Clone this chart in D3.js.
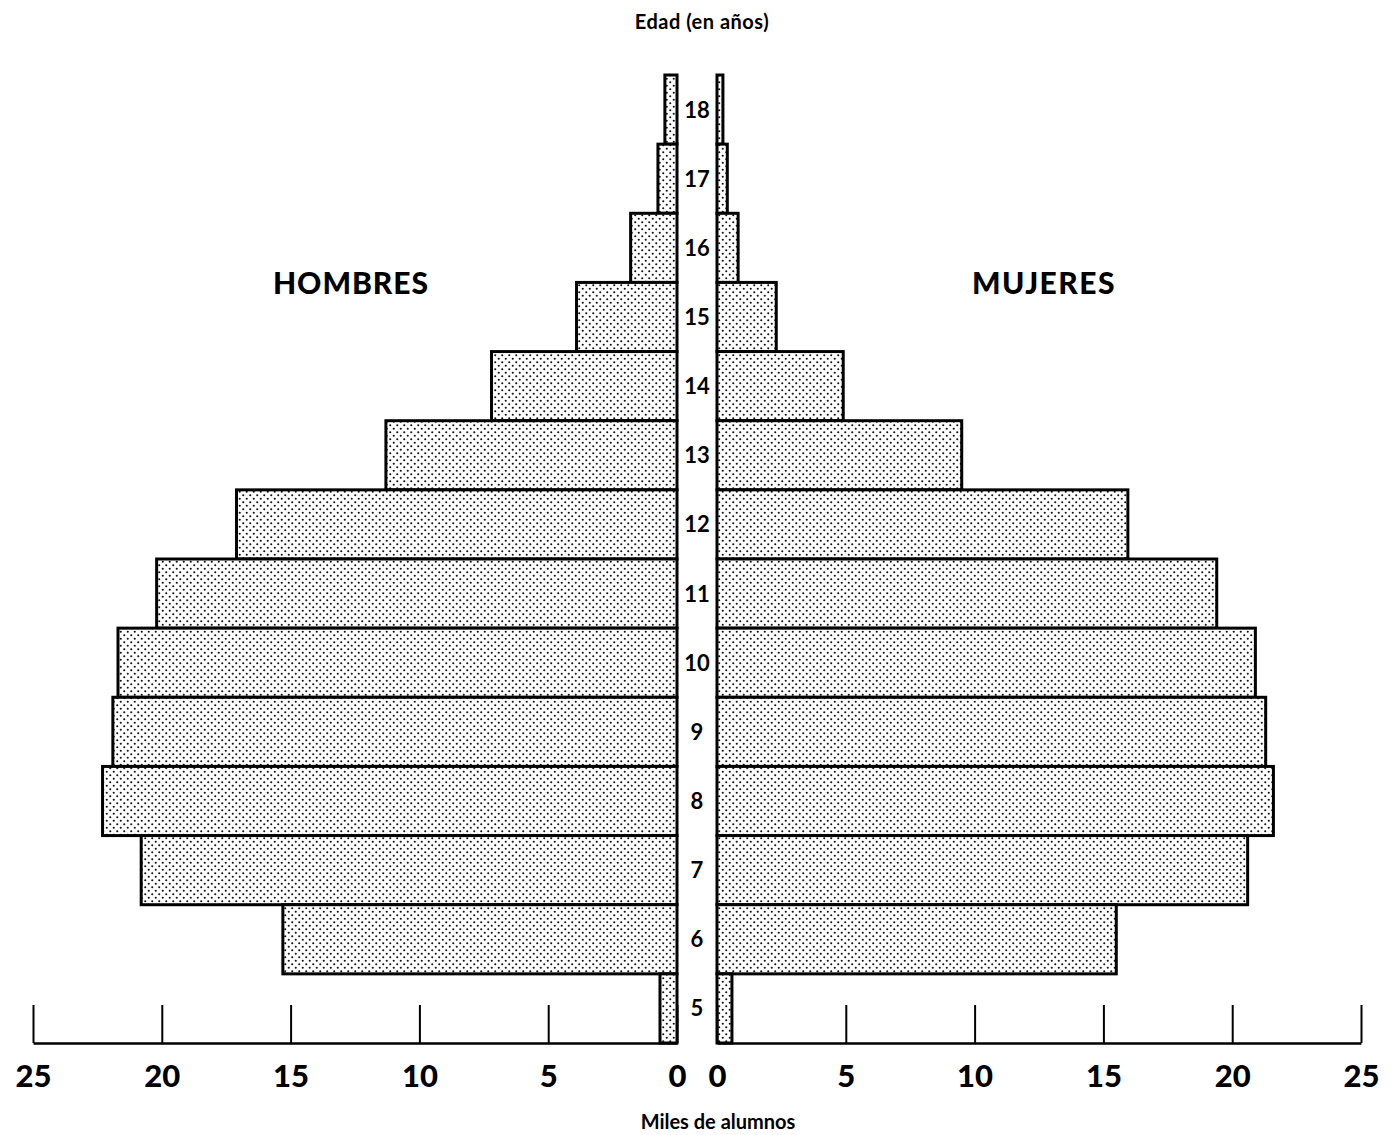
<!DOCTYPE html>
<html><head><meta charset="utf-8">
<script src="https://cdn.jsdelivr.net/npm/d3@7"></script>
<style>
body{margin:0;background:#fff;}
text{font-family:Lato,"DejaVu Sans",sans-serif;fill:#000;}
</style></head>
<body>
<svg id="c" width="1391" height="1135"></svg>
<script>
const ages = [18,17,16,15,14,13,12,11,10,9,8,7,6,5];
const hombres = [0.47,0.74,1.8,3.9,7.2,11.3,17.1,20.2,21.7,21.9,22.3,20.8,15.3,0.66];
const mujeres = [0.23,0.4,0.82,2.3,4.9,9.5,15.95,19.4,20.9,21.3,21.6,20.6,15.5,0.58];
const ticks = [0,5,10,15,20,25];

(function(){
const svg = d3.select("#c");
const defs = svg.append("defs");
const pat = defs.append("pattern").attr("id","dots").attr("patternUnits","userSpaceOnUse")
  .attr("width",7).attr("height",7);
pat.append("rect").attr("width",7).attr("height",7).attr("fill","#fff");
pat.append("circle").attr("cx",1.75).attr("cy",1.75).attr("r",1.05).attr("fill","#111");
pat.append("circle").attr("cx",5.25).attr("cy",5.25).attr("r",1.05).attr("fill","#111");

const yTop = 75, yBottom = 1043;
const xL = d3.scaleLinear().domain([0,25]).range([677,33]);
const xR = d3.scaleLinear().domain([0,25]).range([717,1361]);
const y = d3.scaleBand().domain(ages).range([yTop,yBottom]).padding(0);

// bars
svg.append("g").selectAll("rect").data(ages).join("rect")
  .attr("x",(d,i)=>xL(hombres[i])).attr("y",d=>y(d))
  .attr("width",(d,i)=>xL(0)-xL(hombres[i])).attr("height",y.bandwidth())
  .attr("fill","url(#dots)").attr("stroke","#000").attr("stroke-width",3);
svg.append("g").selectAll("rect").data(ages).join("rect")
  .attr("x",xR(0)).attr("y",d=>y(d))
  .attr("width",(d,i)=>xR(mujeres[i])-xR(0)).attr("height",y.bandwidth())
  .attr("fill","url(#dots)").attr("stroke","#000").attr("stroke-width",3);

// age labels
svg.append("g").selectAll("text").data(ages).join("text")
  .attr("x",697).attr("y",d=>y(d)+y.bandwidth()/2+8)
  .attr("text-anchor","middle").attr("font-size",22).attr("font-weight",700)
  .text(d=>d);

// axes
function styleAxis(g){
  g.select(".domain").attr("stroke","#000").attr("stroke-width",2.5);
  g.selectAll(".tick line").attr("stroke","#000").attr("stroke-width",2);
  g.selectAll(".tick text").attr("font-size",31).attr("font-weight",900)
    .attr("font-family","Lato, 'DejaVu Sans', sans-serif").attr("fill","#000");
}
const axL = d3.axisBottom(xL).tickValues(ticks).tickSizeInner(-38).tickSizeOuter(0).tickPadding(22);
const axR = d3.axisBottom(xR).tickValues(ticks).tickSizeInner(-38).tickSizeOuter(0).tickPadding(22);
svg.append("g").attr("transform",`translate(0,${yBottom})`).call(axL).call(styleAxis);
svg.append("g").attr("transform",`translate(0,${yBottom})`).call(axR).call(styleAxis);

// titles
svg.append("text").attr("x",702).attr("y",29).attr("text-anchor","middle")
  .attr("font-size",20).attr("font-weight",700).attr("letter-spacing",0.5).text("Edad (en años)");
svg.append("text").attr("x",351).attr("y",294).attr("text-anchor","middle")
  .attr("font-size",30).attr("font-weight",900).attr("letter-spacing",1).text("HOMBRES");
svg.append("text").attr("x",1044).attr("y",294).attr("text-anchor","middle")
  .attr("font-size",30).attr("font-weight",900).attr("letter-spacing",1.5).text("MUJERES");
svg.append("text").attr("x",718).attr("y",1129).attr("text-anchor","middle")
  .attr("font-size",20).attr("font-weight",700).text("Miles de alumnos");
})();
</script>
</body></html>
